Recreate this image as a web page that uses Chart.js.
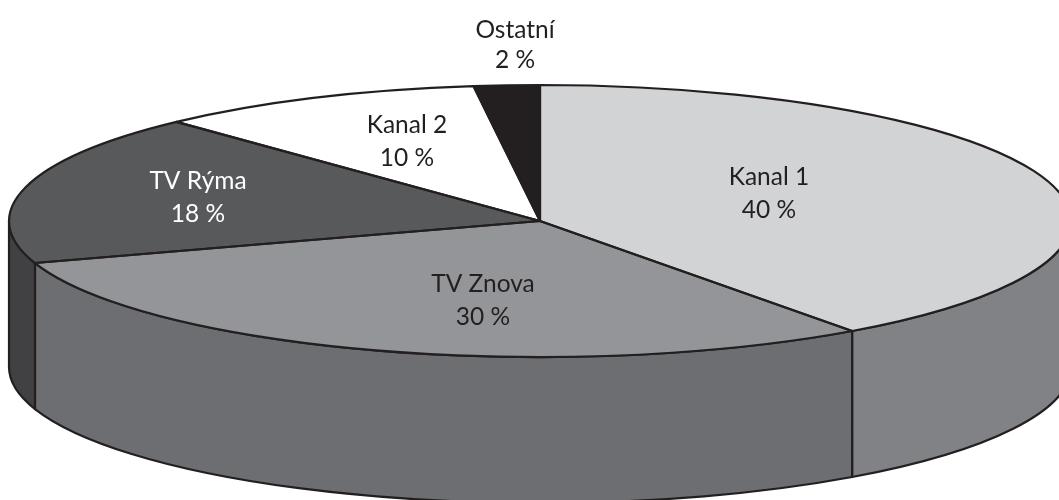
<!DOCTYPE html>
<html><head><meta charset="utf-8">
<style>html,body{margin:0;padding:0;background:#fff}#w{width:1059px;height:500px;position:relative;overflow:hidden}</style>
<script src="https://cdn.jsdelivr.net/npm/chart.js@4"></script>
</head><body><div id="w"><canvas id="c" width="1059" height="500"></canvas></div>
<script>
const categories = ["Kanal 1", "TV Znova", "TV Rýma", "Kanal 2", "Ostatní"];
const shares = [40, 30, 18, 10, 2];
const topColors = ["#d1d3d4", "#939598", "#58595b", "#ffffff", "#231f20"];
const wallColors = ["#808285", "#6d6e71", "#414042", "#ffffff", "#231f20"];
const textColors = ["#231f20", "#231f20", "#ffffff", "#231f20", "#231f20"];
const labelCentres = [[769, 177, 33], [483, 284, 33], [198, 181, 33], [407, 125, 33], [515, 30, 30]];

const CX = 540, CY = 221, RX = 531, RY = 136, DEPTH = 146;
const INK = "#231f20";

const pie3d = {
  id: "pie3d",
  beforeDatasetsDraw(chart) {
    const ctx = chart.ctx, arcs = chart.getDatasetMeta(0).data;
    arcs.forEach((arc, i) => {
      const a0 = Math.max(arc.startAngle, 0), a1 = Math.min(arc.endAngle, Math.PI);
      if (a1 <= a0) return;
      ctx.beginPath();
      ctx.ellipse(CX, CY, RX, RY, 0, a0, a1);
      ctx.lineTo(CX + RX * Math.cos(a1), CY + DEPTH + RY * Math.sin(a1));
      ctx.ellipse(CX, CY + DEPTH, RX, RY, 0, a1, a0, true);
      ctx.closePath();
      ctx.fillStyle = wallColors[i];
      ctx.fill();
      ctx.strokeStyle = INK; ctx.lineWidth = 2.2; ctx.lineJoin = "round";
      ctx.stroke();
    });
    const a = arcs[0];
    const sx = RX / a.outerRadius, sy = RY / a.outerRadius;
    ctx.save();
    ctx.translate(CX, CY);
    ctx.scale(sx, sy);
    ctx.translate(-a.x, -a.y);
  },
  afterDatasetsDraw(chart) {
    const ctx = chart.ctx, arcs = chart.getDatasetMeta(0).data;
    ctx.restore();
    arcs.forEach((arc) => {
      ctx.beginPath();
      ctx.moveTo(CX, CY);
      ctx.ellipse(CX, CY, RX, RY, 0, arc.startAngle, arc.endAngle);
      ctx.closePath();
      ctx.strokeStyle = INK; ctx.lineWidth = 2.2; ctx.lineJoin = "round";
      ctx.stroke();
    });
    ctx.font = '24.5px Lato';
    ctx.textAlign = "center";
    ctx.textBaseline = "middle";
    categories.forEach((name, i) => {
      const [x, y, gap] = labelCentres[i];
      ctx.fillStyle = textColors[i];
      ctx.fillText(name, x, y);
      ctx.fillText(shares[i] + " %", x, y + gap);
    });
  }
};

new Chart(document.getElementById("c"), {
  type: "pie",
  data: { labels: categories, datasets: [{ data: shares, backgroundColor: topColors, borderWidth: 0, clip: false }] },
  options: {
    responsive: false, animation: false,
    layout: { padding: 0 },
    plugins: { legend: { display: false }, tooltip: { enabled: false } }
  },
  plugins: [pie3d]
});
</script></body></html>
